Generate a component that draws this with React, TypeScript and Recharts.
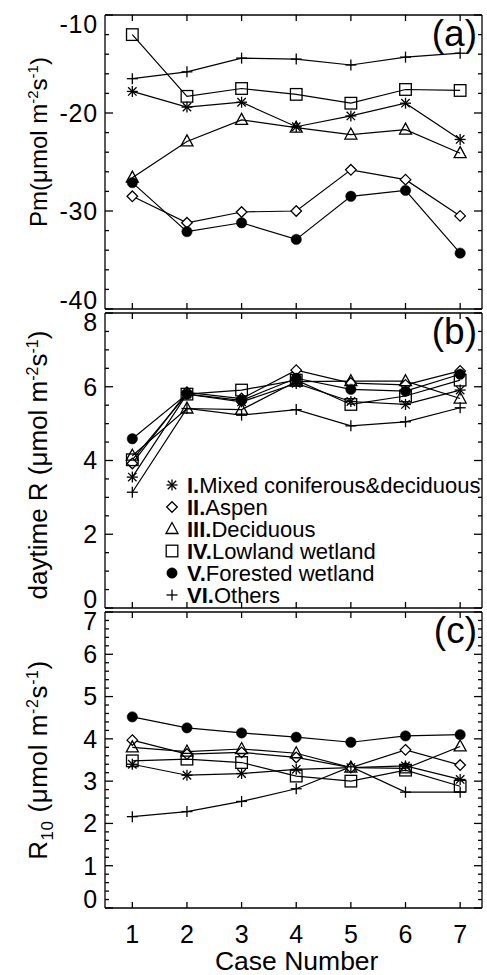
import React from 'react';
import { LineChart, Line, XAxis, YAxis, Legend } from 'recharts';

const FONT = '"Liberation Sans", Arial, Helvetica, sans-serif';

// ---------- data ----------
const cases = [1, 2, 3, 4, 5, 6, 7];
const numerals = ['I.', 'II.', 'III.', 'IV.', 'V.', 'VI.'];
const classNames = ['Mixed coniferous&deciduous', 'Aspen', 'Deciduous', 'Lowland wetland', 'Forested wetland', 'Others'];
const markerTypes = ['asterisk', 'diamond', 'triangle', 'square', 'circle', 'plus'];

// (a) Pm
const pmI = [-17.8, -19.4, -18.9, -21.4, -20.3, -19.0, -22.7];
const pmII = [-28.5, -31.2, -30.1, -30.0, -25.8, -26.8, -30.5];
const pmIII = [-26.6, -22.9, -20.7, -21.5, -22.2, -21.7, -24.1];
const pmIV = [-12.0, -18.3, -17.5, -18.1, -19.0, -17.6, -17.7];
const pmV = [-27.1, -32.1, -31.2, -32.9, -28.5, -27.9, -34.3];
const pmVI = [-16.5, -15.8, -14.4, -14.5, -15.1, -14.3, -13.9];

// (b) daytime R
const rdI = [3.55, 5.8, 5.59, 6.09, 5.6, 5.52, 5.91];
const rdII = [3.92, 5.85, 5.68, 6.45, 6.1, 6.05, 6.43];
const rdIII = [4.13, 5.41, 5.38, 6.14, 6.15, 6.15, 5.68];
const rdIV = [4.02, 5.8, 5.91, 6.18, 5.52, 5.75, 6.18];
const rdV = [4.59, 5.8, 5.63, 6.23, 5.93, 5.88, 6.34];
const rdVI = [3.14, 5.41, 5.23, 5.38, 4.94, 5.05, 5.43];

// (c) R10
const r10I = [3.4, 3.14, 3.18, 3.28, 3.32, 3.36, 3.04];
const r10II = [3.97, 3.64, 3.68, 3.56, 3.32, 3.74, 3.38];
const r10III = [3.8, 3.7, 3.76, 3.66, 3.32, 3.3, 3.82];
const r10IV = [3.48, 3.52, 3.44, 3.12, 3.0, 3.26, 2.88];
const r10V = [4.52, 4.26, 4.14, 4.04, 3.92, 4.07, 4.1];
const r10VI = [2.16, 2.28, 2.52, 2.82, 3.34, 2.74, 2.74];

// tick labels
const pmMajor = [-40, -30, -20, -10];
const rdMajor = [0, 2, 4, 6, 8];
const r10Major = [0, 1, 2, 3, 4, 5, 6, 7];

const buildData = (series: number[][]) =>
  cases.map((c, i) => {
    const row: any = { c };
    series.forEach((s, k) => (row['s' + k] = s[i]));
    return row;
  });

const dataA = buildData([pmI, pmII, pmIII, pmIV, pmV, pmVI]);
const dataB = buildData([rdI, rdII, rdIII, rdIV, rdV, rdVI]);
const dataC = buildData([r10I, r10II, r10III, r10IV, r10V, r10VI]);

const minorTicks = (min: number, max: number, step: number) => {
  const out: number[] = [];
  const n = Math.round((max - min) / step);
  for (let i = 0; i <= n; i++) out.push(Number((min + i * step).toFixed(3)));
  return out;
};

// ---------- markers ----------
const SW = 1.3;
function Marker({ type, cx, cy }: { type: string; cx: number; cy: number }) {
  if (cx == null || cy == null || isNaN(cx) || isNaN(cy)) return null;
  const st = { stroke: '#000', strokeWidth: SW, fill: 'none' } as any;
  switch (type) {
    case 'asterisk': {
      const r = 5.5, d = 4.2;
      return (
        <g {...st}>
          <line x1={cx} y1={cy - r} x2={cx} y2={cy + r} />
          <line x1={cx - r} y1={cy} x2={cx + r} y2={cy} />
          <line x1={cx - d} y1={cy - d} x2={cx + d} y2={cy + d} />
          <line x1={cx - d} y1={cy + d} x2={cx + d} y2={cy - d} />
        </g>
      );
    }
    case 'diamond': {
      const r = 5.3;
      return <polygon {...st} fill="#fff" points={`${cx},${cy - r} ${cx + r},${cy} ${cx},${cy + r} ${cx - r},${cy}`} />;
    }
    case 'triangle':
      return <polygon {...st} fill="none" points={`${cx},${cy - 6.5} ${cx + 6},${cy + 4.5} ${cx - 6},${cy + 4.5}`} />;
    case 'square':
      return <rect {...st} fill="none" x={cx - 5.8} y={cy - 5.8} width={11.6} height={11.6} />;
    case 'circle':
      return <circle cx={cx} cy={cy} r={5.2} fill="#000" stroke="#000" strokeWidth={0.5} />;
    case 'plus': {
      const r = 5.5;
      return (
        <g {...st}>
          <line x1={cx} y1={cy - r} x2={cx} y2={cy + r} />
          <line x1={cx - r} y1={cy} x2={cx + r} y2={cy} />
        </g>
      );
    }
  }
  return null;
}

// ---------- ticks ----------
const isIn = (arr: number[], v: number) => arr.some((m) => Math.abs(m - v) < 1e-6);

const leftTick = (majors: number[], min: number, max: number) => (props: any) => {
  const { x, y, payload } = props;
  const v = payload.value;
  const major = isIn(majors, v);
  let dy = 8.8;
  if (Math.abs(v - max) < 1e-6) dy = 17.5;
  else if (Math.abs(v - min) < 1e-6) dy = -0.5;
  return (
    <g>
      <line x1={x} x2={x + (major ? 8 : 4)} y1={y} y2={y} stroke="#000" strokeWidth={SW} />
      {major && (
        <text x={x - 7} y={y + dy} textAnchor="end" fontSize={25} letterSpacing={0.8} fontFamily={FONT} fill="#000">
          {String(v)}
        </text>
      )}
    </g>
  );
};

const rightTick = (majors: number[]) => (props: any) => {
  const { x, y, payload } = props;
  const major = isIn(majors, payload.value);
  return <line x1={x} x2={x - (major ? 8 : 4)} y1={y} y2={y} stroke="#000" strokeWidth={SW} />;
};

const topTick = (props: any) => {
  const { x, y } = props;
  return <line x1={x} x2={x} y1={y} y2={y + 6} stroke="#000" strokeWidth={SW} />;
};

const bottomTick = (withLabel: boolean) => (props: any) => {
  const { x, y, payload } = props;
  return (
    <g>
      <line x1={x} x2={x} y1={y} y2={y - 6} stroke="#000" strokeWidth={SW} />
      {withLabel && (
        <text x={x} y={y + 34.7} textAnchor="middle" fontSize={25} fontFamily={FONT} fill="#000">
          {String(payload.value)}
        </text>
      )}
    </g>
  );
};

// ---------- labels ----------
const Units = ({ sup }: { sup: number }) => (
  <>
    <tspan>(μmol m</tspan>
    <tspan dy={-9} fontSize={sup}>-2</tspan>
    <tspan dy={9}>s</tspan>
    <tspan dy={-9} fontSize={sup}>-1</tspan>
    <tspan dy={9}>)</tspan>
  </>
);

const yTitle = (cy: number, kind: string) => () => (
  <text
    transform={`translate(47, ${cy}) rotate(-90)`}
    textAnchor="middle"
    fontSize={kind === 'a' ? 24 : 26}
    letterSpacing={kind === 'c' ? 0.6 : 0}
    fontFamily={FONT}
    fill="#000"
  >
    {kind === 'a' && (
      <>
        <tspan>Pm</tspan>
        <Units sup={15} />
      </>
    )}
    {kind === 'b' && (
      <>
        <tspan>daytime R </tspan>
        <Units sup={16} />
      </>
    )}
    {kind === 'c' && (
      <>
        <tspan>R</tspan>
        <tspan dy={6} fontSize={17}>10</tspan>
        <tspan dy={-6}> </tspan>
        <Units sup={16} />
      </>
    )}
  </text>
);

const panelTag = (txt: string) => () => (
  <text x={477} y={46} textAnchor="end" fontSize={37} fontFamily={FONT} fill="#000">
    {txt}
  </text>
);

const legendContent = () => (
  <svg width={330} height={140} style={{ overflow: 'visible', display: 'block' }}>
    {markerTypes.map((t, i) => (
      <g key={t}>
        <Marker type={t} cx={7} cy={10 + i * 22} />
        <text x={22} y={17.5 + i * 22} fontSize={22} fontFamily={FONT} fill="#000">
          <tspan fontWeight="bold">{numerals[i]}</tspan>
          <tspan>{classNames[i]}</tspan>
        </text>
      </g>
    ))}
  </svg>
);

// ---------- panel ----------
type PanelProps = {
  data: any[];
  height: number;
  marginBottom: number;
  domain: [number, number];
  majors: number[];
  step: number;
  kind: string;
  titleCy: number;
  tag: string;
  showX: boolean;
  legend?: boolean;
};

function Panel(p: PanelProps) {
  const ticks = minorTicks(p.domain[0], p.domain[1], p.step);
  return (
    <LineChart
      width={487}
      height={p.height}
      data={p.data}
      margin={{ top: 14, right: 4, bottom: p.marginBottom, left: 0 }}
    >
      <XAxis
        dataKey="c"
        type="number"
        domain={[0.5, 7.4]}
        allowDataOverflow
        ticks={cases}
        interval={0}
        height={1}
        tickSize={0}
        tickMargin={0}
        tickLine={false}
        axisLine={{ stroke: '#000', strokeWidth: SW }}
        tick={bottomTick(p.showX)}
        label={
          p.showX
            ? {
                content: () => (
                  <text x={296.7} y={373} textAnchor="middle" fontSize={26.5} fontFamily={FONT} fill="#000">
                    Case Number
                  </text>
                ),
              }
            : undefined
        }
      />
      <XAxis
        xAxisId="top"
        orientation="top"
        dataKey="c"
        type="number"
        domain={[0.5, 7.4]}
        allowDataOverflow
        ticks={cases}
        interval={0}
        height={1}
        tickSize={0}
        tickMargin={0}
        tickLine={false}
        axisLine={{ stroke: '#000', strokeWidth: SW }}
        tick={topTick}
      />
      <YAxis
        type="number"
        domain={p.domain}
        allowDataOverflow
        ticks={ticks}
        interval={0}
        width={105}
        tickSize={0}
        tickMargin={0}
        tickLine={false}
        axisLine={{ stroke: '#000', strokeWidth: SW }}
        tick={leftTick(p.majors, p.domain[0], p.domain[1])}
        label={{ content: yTitle(p.titleCy, p.kind) }}
      />
      <YAxis
        yAxisId="r"
        orientation="right"
        type="number"
        domain={p.domain}
        allowDataOverflow
        ticks={ticks}
        interval={0}
        width={1}
        tickSize={0}
        tickMargin={0}
        tickLine={false}
        axisLine={{ stroke: '#000', strokeWidth: SW }}
        tick={rightTick(p.majors)}
        label={{ content: panelTag(p.tag) }}
      />
      {markerTypes.map((t, k) => (
        <Line
          key={t}
          dataKey={'s' + k}
          name={numerals[k] + classNames[k]}
          type="linear"
          stroke="#000"
          strokeWidth={1.2}
          isAnimationActive={false}
          activeDot={false}
          dot={(dp: any) => <Marker key={t + dp.index} type={t} cx={dp.cx} cy={dp.cy} />}
        />
      ))}
      {p.legend && (
        <Legend
          layout="vertical"
          align="center"
          verticalAlign="middle"
          content={legendContent}
          wrapperStyle={{ position: 'absolute', left: 165, top: 177, width: 330, height: 140, margin: 0, padding: 0 }}
        />
      )}
    </LineChart>
  );
}

export default function App() {
  return (
    <div style={{ position: 'absolute', left: 0, top: 0, width: 487, height: 975, background: '#fff' }}>
      <div style={{ position: 'absolute', left: 0, top: 0 }}>
        <Panel data={dataA} height={311} marginBottom={1} domain={[-40, -10]} majors={pmMajor} step={2}
          kind="a" titleCy={142} tag="(a)" showX={false} />
      </div>
      <div style={{ position: 'absolute', left: 0, top: 298 }}>
        <Panel data={dataB} height={312} marginBottom={1} domain={[0, 8]} majors={rdMajor} step={0.5}
          kind="b" titleCy={167} tag="(b)" showX={false} legend />
      </div>
      <div style={{ position: 'absolute', left: 0, top: 597 }}>
        <Panel data={dataC} height={378} marginBottom={66} domain={[0, 7]} majors={r10Major} step={0.2}
          kind="c" titleCy={163} tag="(c)" showX />
      </div>
    </div>
  );
}
